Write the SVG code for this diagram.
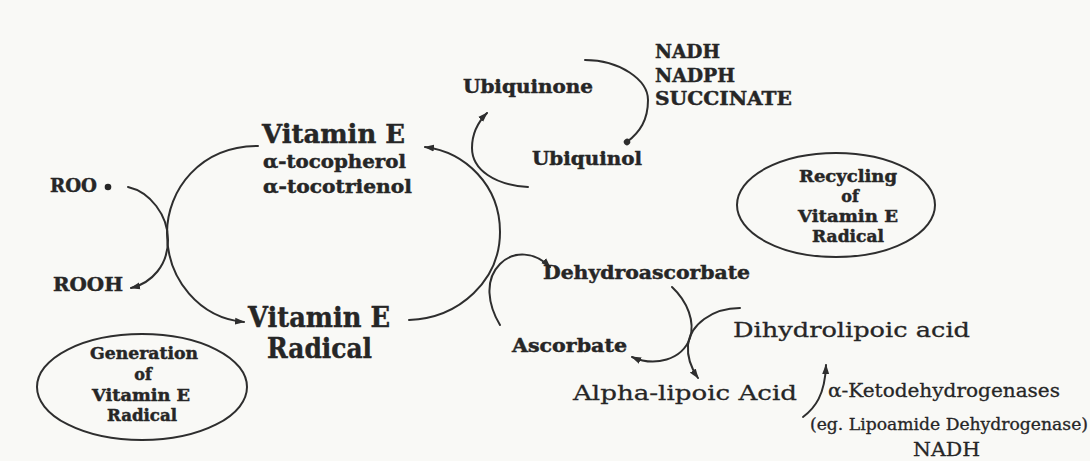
<svg xmlns="http://www.w3.org/2000/svg" width="1090" height="461" viewBox="0 0 1090 461">
<defs>
<style>
.b{font-family:"DejaVu Serif","Liberation Serif",serif;font-weight:bold;fill:#262626;stroke:#262626;stroke-width:0.45}
.r{font-family:"DejaVu Serif","Liberation Serif",serif;fill:#262626;stroke:#262626;stroke-width:0.3}
.c{fill:none;stroke:#2e2e2e;stroke-width:2;stroke-linecap:round}
.e{fill:none;stroke:#2e2e2e;stroke-width:2}
</style>
<marker id="ah" markerWidth="10" markerHeight="8" refX="9" refY="4" orient="auto" markerUnits="userSpaceOnUse">
<path d="M0,0.5 L10,4 L0,7.5 Z" fill="#2e2e2e"/>
</marker>
<marker id="dot" markerWidth="8" markerHeight="8" refX="4" refY="4" orient="auto" markerUnits="userSpaceOnUse">
<circle cx="4" cy="4" r="3.2" fill="#2e2e2e"/>
</marker>
</defs>
<rect width="1090" height="461" fill="#f9f9f6"/>

<g id="connectors">
<path class="c" d="M258,146 C200,146 167,190 167,233 C167,280 200,318 244,322" marker-end="url(#ah)"/>
<path class="c" d="M409,320 C460,318 500,280 500,232 C500,185 465,152 425,147" marker-end="url(#ah)"/>
<path class="c" d="M128,187 C150,192 168,215 168,240 C168,265 152,283 131,288" marker-end="url(#ah)"/>
<path class="c" d="M528,187 C495,185 472,170 472,148 C472,132 478,122 487,113" marker-end="url(#ah)"/>
<path class="c" d="M585,60 C620,60 648,80 648,100 C648,120 640,132 627,142" marker-end="url(#dot)"/>
<path class="c" d="M500,325 C488,305 484,280 500,264 C514,250 535,252 550,267" marker-end="url(#ah)"/>
<path class="c" d="M672,287 C688,302 695,322 690,338 C682,360 655,367 632,357" marker-end="url(#ah)"/>
<path class="c" d="M740,308 C712,308 690,325 688,345 C687,358 691,368 698,378" marker-end="url(#ah)"/>
<path class="c" d="M803,417 C815,408 825,395 826,365" marker-end="url(#ah)"/>
</g>

<g id="roo">
<text class="b" x="50" y="192" font-size="18" textLength="47" lengthAdjust="spacingAndGlyphs">ROO</text>
<circle cx="108" cy="187" r="3.3" fill="#262626"/>
</g>
<g id="rooh">
<text class="b" x="53" y="291" font-size="18" textLength="70" lengthAdjust="spacingAndGlyphs">ROOH</text>
</g>
<g id="vitamin-e">
<text class="b" x="262" y="143" font-size="26" textLength="143" lengthAdjust="spacingAndGlyphs">Vitamin E</text>
<text class="b" x="263" y="168" font-size="18" textLength="143" lengthAdjust="spacingAndGlyphs">α-tocopherol</text>
<text class="b" x="263" y="193" font-size="18" textLength="149" lengthAdjust="spacingAndGlyphs">α-tocotrienol</text>
</g>
<g id="vitamin-e-radical">
<text class="b" x="248" y="327" font-size="28" textLength="142" lengthAdjust="spacingAndGlyphs">Vitamin E</text>
<text class="b" x="267" y="358" font-size="28" textLength="105" lengthAdjust="spacingAndGlyphs">Radical</text>
</g>
<g id="ubiquinone">
<text class="b" x="463" y="93" font-size="18" textLength="130" lengthAdjust="spacingAndGlyphs">Ubiquinone</text>
</g>
<g id="ubiquinol">
<text class="b" x="532" y="165" font-size="18" textLength="110" lengthAdjust="spacingAndGlyphs">Ubiquinol</text>
</g>
<g id="reductants">
<text class="b" x="655" y="58" font-size="18" textLength="65" lengthAdjust="spacingAndGlyphs">NADH</text>
<text class="b" x="655" y="82" font-size="18" textLength="80" lengthAdjust="spacingAndGlyphs">NADPH</text>
<text class="b" x="655" y="105" font-size="18" textLength="137" lengthAdjust="spacingAndGlyphs">SUCCINATE</text>
</g>
<g id="recycling">
<ellipse class="e" cx="836" cy="205" rx="99" ry="52"/>
<text class="b" x="848" y="182" font-size="16" text-anchor="middle" textLength="98" lengthAdjust="spacingAndGlyphs">Recycling</text>
<text class="b" x="850" y="202" font-size="16" text-anchor="middle">of</text>
<text class="b" x="848" y="222" font-size="16" text-anchor="middle" textLength="100" lengthAdjust="spacingAndGlyphs">Vitamin E</text>
<text class="b" x="848" y="242" font-size="16" text-anchor="middle" textLength="72" lengthAdjust="spacingAndGlyphs">Radical</text>
</g>
<g id="generation">
<ellipse class="e" cx="142" cy="387" rx="105" ry="53"/>
<text class="b" x="144" y="359" font-size="16" text-anchor="middle" textLength="108" lengthAdjust="spacingAndGlyphs">Generation</text>
<text class="b" x="143" y="380" font-size="16" text-anchor="middle">of</text>
<text class="b" x="141" y="401" font-size="16" text-anchor="middle" textLength="98" lengthAdjust="spacingAndGlyphs">Vitamin E</text>
<text class="b" x="142" y="421" font-size="16" text-anchor="middle" textLength="70" lengthAdjust="spacingAndGlyphs">Radical</text>
</g>
<g id="dehydroascorbate">
<text class="b" x="543" y="279" font-size="18" textLength="207" lengthAdjust="spacingAndGlyphs">Dehydroascorbate</text>
</g>
<g id="ascorbate">
<text class="b" x="512" y="352" font-size="18" textLength="115" lengthAdjust="spacingAndGlyphs">Ascorbate</text>
</g>
<g id="dihydrolipoic-acid">
<text class="r" x="733" y="337" font-size="21" textLength="237" lengthAdjust="spacingAndGlyphs">Dihydrolipoic acid</text>
</g>
<g id="alpha-lipoic-acid">
<text class="r" x="573" y="400" font-size="21" textLength="224" lengthAdjust="spacingAndGlyphs">Alpha-lipoic Acid</text>
</g>
<g id="enzymes">
<text class="r" x="828" y="397" font-size="19" textLength="232" lengthAdjust="spacingAndGlyphs">α-Ketodehydrogenases</text>
<text class="r" x="810" y="430" font-size="16" textLength="278" lengthAdjust="spacingAndGlyphs">(eg. Lipoamide Dehydrogenase)</text>
<text class="r" x="913" y="456" font-size="18" textLength="67" lengthAdjust="spacingAndGlyphs">NADH</text>
</g>
</svg>
